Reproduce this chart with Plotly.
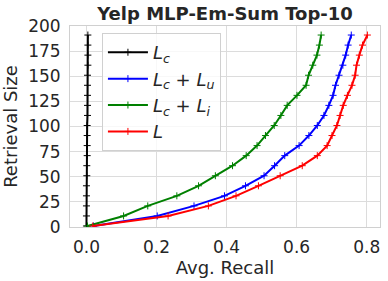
import plotly.graph_objects as go

retrieval_size = [1, 11, 21, 31, 41, 51, 61, 71, 81, 91, 101, 111, 121, 131, 141, 151, 161, 171, 181, 191]

recall_lc = [0.000, 0.000, 0.000, 0.000, 0.000, 0.001, 0.001, 0.002, 0.002, 0.002,
             0.002, 0.003, 0.003, 0.003, 0.003, 0.003, 0.004, 0.004, 0.004, 0.004]
recall_lc_lu = [0.020, 0.202, 0.307, 0.394, 0.454, 0.507, 0.537, 0.566, 0.607, 0.635,
                0.659, 0.678, 0.692, 0.704, 0.711, 0.721, 0.732, 0.740, 0.747, 0.756]
recall_lc_li = [0.003, 0.106, 0.175, 0.258, 0.320, 0.368, 0.417, 0.456, 0.487, 0.511,
                0.536, 0.555, 0.573, 0.601, 0.627, 0.634, 0.646, 0.658, 0.665, 0.670]
recall_l = [0.018, 0.233, 0.348, 0.427, 0.491, 0.553, 0.616, 0.659, 0.687, 0.701,
            0.715, 0.724, 0.733, 0.745, 0.758, 0.767, 0.771, 0.779, 0.788, 0.802]

series = [
    ("<i>L</i><sub><i>c</i></sub>", recall_lc, "#000000"),
    ("<i>L</i><sub><i>c</i></sub> + <i>L</i><sub><i>u</i></sub>", recall_lc_lu, "#0000ff"),
    ("<i>L</i><sub><i>c</i></sub> + <i>L</i><sub><i>i</i></sub>", recall_lc_li, "#008000"),
    ("<i>L</i>", recall_l, "#ff0000"),
]

x_ticks = [0.0, 0.2, 0.4, 0.6, 0.8]
y_ticks = [0, 25, 50, 75, 100, 125, 150, 175, 200]

fig = go.Figure()
for name, xs, color in series:
    fig.add_trace(go.Scatter(
        x=xs, y=retrieval_size, name=name, mode="lines+markers",
        line=dict(color=color, width=2),
        marker=dict(symbol="cross-thin", size=5, line=dict(color=color, width=1)),
    ))

font_color = "#262626"
fig.update_layout(
    width=388, height=281,
    margin=dict(l=70, r=8, t=26, b=54),
    paper_bgcolor="white", plot_bgcolor="white",
    font=dict(family="DejaVu Sans", size=17, color=font_color),
    title=dict(text="<b>Yelp MLP-Em-Sum Top-10</b>", x=0.58, xanchor="center",
               y=0.952, yanchor="middle", font=dict(size=18, color=font_color)),
    legend=dict(x=0.103, y=0.965, xanchor="left", yanchor="top",
                bgcolor="rgba(255,255,255,0.8)", bordercolor="#d0d0d0", borderwidth=1,
                font=dict(size=18), tracegroupgap=0, itemwidth=40),
    showlegend=True,
)
fig.update_xaxes(range=[-0.047, 0.838], tickvals=x_ticks, tickformat=".1f",
                 showgrid=True, gridcolor="#dcdcdc", gridwidth=1,
                 showline=True, linecolor="#d0d0d0", mirror=True, zeroline=False,
                 ticks="", tickfont=dict(size=17), ticklabelstandoff=5, automargin=False,
                 title=dict(text="Avg. Recall", font=dict(size=18), standoff=4))
fig.update_yaxes(range=[0, 200], tickvals=y_ticks,
                 showgrid=True, gridcolor="#dcdcdc", gridwidth=1,
                 showline=True, linecolor="#d0d0d0", mirror=True, zeroline=False,
                 ticks="", tickfont=dict(size=17), ticklabelstandoff=5, automargin=False,
                 title=dict(text="Retrieval Size", font=dict(size=18), standoff=6))

fig.write_html("out.html", config={"displayModeBar": False},
               post_script="document.body.style.margin='0';")
